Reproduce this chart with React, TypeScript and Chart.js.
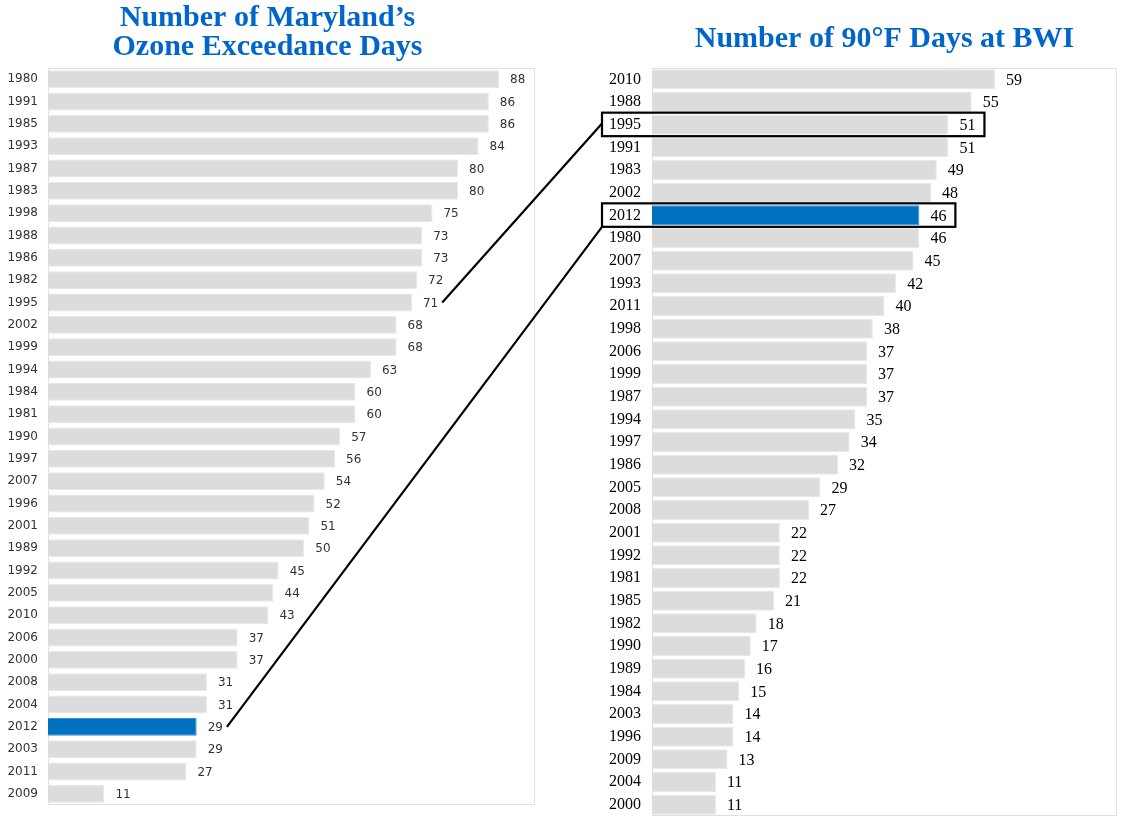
import { useEffect, useRef } from 'react';
import { Chart, registerables } from 'chart.js';

Chart.register(...registerables);

// ---------------- data ----------------
const ozoneYears = ['1980', '1991', '1985', '1993', '1987', '1983', '1998', '1988', '1986', '1982', '1995', '2002', '1999', '1994', '1984', '1981', '1990', '1997', '2007', '1996', '2001', '1989', '1992', '2005', '2010', '2006', '2000', '2008', '2004', '2012', '2003', '2011', '2009'];
const ozoneDays = [88, 86, 86, 84, 80, 80, 75, 73, 73, 72, 71, 68, 68, 63, 60, 60, 57, 56, 54, 52, 51, 50, 45, 44, 43, 37, 37, 31, 31, 29, 29, 27, 11];

const heatYears = ['2010', '1988', '1995', '1991', '1983', '2002', '2012', '1980', '2007', '1993', '2011', '1998', '2006', '1999', '1987', '1994', '1997', '1986', '2005', '2008', '2001', '1992', '1981', '1985', '1982', '1990', '1989', '1984', '2003', '1996', '2009', '2004', '2000'];
const heatDays = [59, 55, 51, 51, 49, 48, 46, 46, 45, 42, 40, 38, 37, 37, 37, 35, 34, 32, 29, 27, 22, 22, 22, 21, 18, 17, 16, 15, 14, 14, 13, 11, 11];

const ozoneTitle = ['Number of Maryland\u2019s', 'Ozone Exceedance Days'];
const heatTitle = 'Number of 90\u00B0F Days at BWI';

const highlightYear = '2012';
const linkedYears = ['1995', '2012'];
const linkAnchors = ['middle', 'bottom'];

// ---------------- style ----------------
const W = 1124;
const H = 818;
const LEFT_W = 545;
const RIGHT_X = 560;
const RIGHT_W = 564;
const GREY = '#DCDCDC';
const GREY_EDGE = '#E8E8E8';
const BLUE = '#0070C0';
const BLUE_EDGE = '#3A8BD0';
const TITLE_COLOR = '#0066CC';
const LEFT_FONT = '12px "DejaVu Sans"';
const RIGHT_FONT = '16px "Liberation Serif"';
const LABEL_GAP = 11;

const framePlugin = {
  id: 'frame',
  beforeDatasetsDraw(chart: any) {
    const { ctx, chartArea } = chart;
    ctx.save();
    ctx.strokeStyle = '#E0E0E0';
    ctx.lineWidth = 1;
    ctx.strokeRect(chartArea.left + 0.5, chartArea.top + 0.5, chartArea.right - chartArea.left - 1, chartArea.bottom - chartArea.top - 1);
    ctx.restore();
  },
};

function makeValueLabels(font: string, color: string) {
  return {
    id: 'valueLabels',
    afterDatasetsDraw(chart: any) {
      const { ctx } = chart;
      const meta = chart.getDatasetMeta(0);
      const values = chart.data.datasets[0].data;
      ctx.save();
      ctx.font = font;
      ctx.fillStyle = color;
      ctx.textAlign = 'left';
      ctx.textBaseline = 'middle';
      meta.data.forEach((bar: any, i: number) => {
        const { x, y } = bar.getProps(['x', 'y'], true);
        ctx.fillText(String(values[i]), x + LABEL_GAP, y + 1);
      });
      ctx.restore();
    },
  };
}

function textWidth(ctx: CanvasRenderingContext2D, font: string, text: string) {
  ctx.save();
  ctx.font = font;
  const w = ctx.measureText(text).width;
  ctx.restore();
  return w;
}

function boxFor(chart: any, idx: number) {
  const bar = chart.getDatasetMeta(0).data[idx];
  const { x, y } = bar.getProps(['x', 'y'], true);
  const w = textWidth(chart.ctx, RIGHT_FONT, String(heatDays[idx]));
  return {
    x1: chart.chartArea.left - 50,
    x2: x + LABEL_GAP + w + 9,
    y1: y - 12,
    y2: y + 11.5,
  };
}

const boxPlugin = {
  id: 'linkBoxes',
  afterDatasetsDraw(chart: any) {
    const { ctx } = chart;
    ctx.save();
    ctx.strokeStyle = '#000';
    ctx.lineWidth = 2.2;
    linkedYears.forEach((yr) => {
      const idx = heatYears.indexOf(yr);
      if (idx < 0) return;
      const b = boxFor(chart, idx);
      ctx.strokeRect(b.x1, b.y1, b.x2 - b.x1, b.y2 - b.y1);
    });
    ctx.restore();
  },
};

function colorsFor(years: string[], hi: string, base: string) {
  return years.map((y) => (y === highlightYear ? hi : base));
}

function fitAxis(width: number) {
  return (s: any) => {
    s.width = width;
    s.paddingTop = 0;
    s.paddingBottom = 0;
  };
}

export default function App() {
  const leftRef = useRef<HTMLCanvasElement>(null);
  const rightRef = useRef<HTMLCanvasElement>(null);
  const overlayRef = useRef<HTMLCanvasElement>(null);

  useEffect(() => {
    if (!leftRef.current || !rightRef.current || !overlayRef.current) return;

    const left = new Chart(leftRef.current, {
      type: 'bar',
      data: {
        labels: ozoneYears,
        datasets: [
          {
            data: ozoneDays,
            backgroundColor: colorsFor(ozoneYears, BLUE, GREY),
            borderColor: colorsFor(ozoneYears, BLUE_EDGE, GREY_EDGE),
            borderWidth: 1,
            barPercentage: 0.8,
            categoryPercentage: 1,
          },
        ],
      },
      options: {
        indexAxis: 'y',
        responsive: false,
        animation: false,
        layout: { padding: { left: 0, right: 10, top: 0, bottom: 13 } },
        scales: {
          x: { display: false, min: 0, max: 95 },
          y: {
            afterFit: fitAxis(48),
            grid: { display: false, drawTicks: false },
            border: { display: false },
            ticks: { padding: 10, color: '#333', autoSkip: false, font: { family: 'DejaVu Sans', size: 12 } },
          },
        },
        plugins: {
          legend: { display: false },
          tooltip: { enabled: false },
          title: {
            display: true,
            text: ozoneTitle,
            color: TITLE_COLOR,
            font: { family: 'Liberation Serif', size: 30, weight: 'bold', lineHeight: 0.95 },
            padding: { top: 4, bottom: 7 },
          },
        },
      } as any,
      plugins: [framePlugin, makeValueLabels(LEFT_FONT, '#333')],
    });

    const right = new Chart(rightRef.current, {
      type: 'bar',
      data: {
        labels: heatYears,
        datasets: [
          {
            data: heatDays,
            backgroundColor: colorsFor(heatYears, BLUE, GREY),
            borderColor: colorsFor(heatYears, BLUE_EDGE, GREY_EDGE),
            borderWidth: 1,
            barPercentage: 0.88,
            categoryPercentage: 1,
          },
        ],
      },
      options: {
        indexAxis: 'y',
        responsive: false,
        animation: false,
        layout: { padding: { left: 0, right: 7, top: 0, bottom: 2 } },
        scales: {
          x: { display: false, min: 0, max: 80 },
          y: {
            afterFit: fitAxis(92),
            grid: { display: false, drawTicks: false },
            border: { display: false },
            ticks: { padding: 11, color: '#000', autoSkip: false, font: { family: 'Liberation Serif', size: 16 } },
          },
        },
        plugins: {
          legend: { display: false },
          tooltip: { enabled: false },
          title: {
            display: true,
            text: heatTitle,
            fullSize: false,
            color: TITLE_COLOR,
            font: { family: 'Liberation Serif', size: 30, weight: 'bold', lineHeight: 1 },
            padding: { top: 24, bottom: 14 },
          },
        },
      } as any,
      plugins: [framePlugin, makeValueLabels(RIGHT_FONT, '#000'), boxPlugin],
    });

    // connector lines between the two charts
    const oc = overlayRef.current;
    const dpr = window.devicePixelRatio || 1;
    oc.width = W * dpr;
    oc.height = H * dpr;
    const octx = oc.getContext('2d')!;
    octx.setTransform(dpr, 0, 0, dpr, 0, 0);
    octx.clearRect(0, 0, W, H);
    octx.strokeStyle = '#000';
    octx.lineWidth = 2.2;
    linkedYears.forEach((yr, k) => {
      const li = ozoneYears.indexOf(yr);
      const ri = heatYears.indexOf(yr);
      if (li < 0 || ri < 0) return;
      const lb = left.getDatasetMeta(0).data[li] as any;
      const lp = lb.getProps(['x', 'y'], true);
      const sx = lp.x + LABEL_GAP + textWidth(octx, LEFT_FONT, String(ozoneDays[li])) + 4;
      const sy = lp.y;
      const b = boxFor(right, ri);
      const ex = RIGHT_X + b.x1;
      const ey = linkAnchors[k] === 'bottom' ? b.y2 : (b.y1 + b.y2) / 2 - 1;
      octx.beginPath();
      octx.moveTo(sx, sy);
      octx.lineTo(ex, ey);
      octx.stroke();
    });

    return () => {
      left.destroy();
      right.destroy();
      octx.clearRect(0, 0, W, H);
    };
  }, []);

  return (
    <div style={{ position: 'fixed', left: 0, top: 0, width: W, height: H, background: '#fff' }}>
      <canvas ref={leftRef} width={LEFT_W} height={H} style={{ position: 'absolute', left: 0, top: 0, width: LEFT_W, height: H }} />
      <canvas ref={rightRef} width={RIGHT_W} height={H} style={{ position: 'absolute', left: RIGHT_X, top: 0, width: RIGHT_W, height: H }} />
      <canvas ref={overlayRef} style={{ position: 'absolute', left: 0, top: 0, width: W, height: H, pointerEvents: 'none' }} />
    </div>
  );
}
